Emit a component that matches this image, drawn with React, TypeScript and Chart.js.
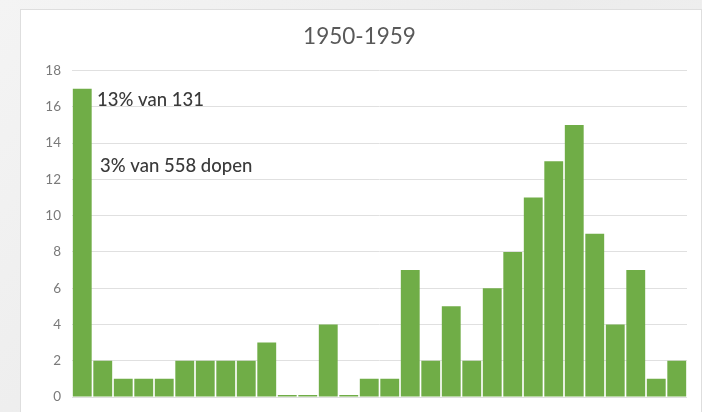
import React, { useEffect, useRef } from "react";
import { Chart, registerables } from "chart.js";

Chart.register(...registerables);

const TITLE = "1950-1959";
const categories = [
  "1", "2", "3", "4", "5", "6", "7", "8", "9", "10",
  "11", "12", "13", "14", "15", "16", "17", "18", "19", "20",
  "21", "22", "23", "24", "25", "26", "27", "28", "29", "30",
];
const counts = [17, 2, 1, 1, 1, 2, 2, 2, 2, 3, 0, 0, 4, 0, 1, 1, 7, 2, 5, 2, 6, 8, 11, 13, 15, 9, 4, 7, 1, 2];
const yMin = 0;
const yMax = 18;
const yStep = 2;
const noteTexts = ["13% van 131", "3% van 558 dopen"];
const noteValues = [16.4, 12.75];
const noteOffsets = [4.5, 7.5];

const notesPlugin = {
  id: "notes",
  afterDatasetsDraw(chart: any) {
    const { ctx, scales } = chart;
    const x = scales.x;
    const y = scales.y;
    ctx.save();
    ctx.font = "500 18.5px Lato";
    ctx.fillStyle = "#3a3a3a";
    ctx.textBaseline = "middle";
    ctx.textAlign = "left";
    noteTexts.forEach((t, i) => {
      const px = x.getPixelForValue(0.5) + noteOffsets[i];
      const py = y.getPixelForValue(noteValues[i]);
      ctx.fillText(t, px, py);
    });
    ctx.restore();
  },
};

export default function App() {
  const ref = useRef<HTMLCanvasElement | null>(null);
  useEffect(() => {
    if (!ref.current) return;
    const chart = new Chart(ref.current, {
      type: "bar",
      data: {
        labels: categories,
        datasets: [
          {
            data: counts,
            backgroundColor: "#70ad47",
            borderWidth: 0,
            barPercentage: 0.92,
            categoryPercentage: 1,
            minBarLength: 2,
          },
        ],
      },
      options: {
        animation: false,
        responsive: false,
        maintainAspectRatio: false,
        layout: { padding: { left: 11, right: 14, top: 0, bottom: 15 } },
        plugins: {
          legend: { display: false },
          tooltip: { enabled: false },
          title: {
            display: true,
            text: TITLE,
            color: "#595959",
            font: { family: "Lato", size: 22.5, weight: "normal" },
            padding: { top: 13, bottom: 20.6 },
          },
        },
        scales: {
          x: { display: false },
          y: {
            min: yMin,
            max: yMax,
            afterFit: (s: any) => {
              s.width = 40;
              s.paddingTop = 0;
              s.paddingBottom = 0;
            },
            ticks: {
              stepSize: yStep,
              padding: 11,
              color: "#7a7a7a",
              font: { family: "Lato", size: 13.5 },
            },
            grid: { color: "#e0e0e0", lineWidth: 1, drawTicks: false },
            border: { display: false },
          },
        },
      },
      plugins: [notesPlugin],
    });
    return () => chart.destroy();
  }, []);

  return (
    <div
      style={{
        position: "fixed",
        left: 0,
        top: 0,
        width: 702,
        height: 412,
        background: "linear-gradient(135deg, #f4f4f4 0%, #ececec 50%, #f3f3f3 100%)",
        overflow: "hidden",
      }}
    >
      <div
        style={{
          position: "absolute",
          left: 20,
          top: 9,
          width: 680,
          height: 402,
          background: "#ffffff",
          borderLeft: "1px solid #dedede",
          borderTop: "1px solid #dedede",
          borderRight: "1px solid #dedede",
        }}
      >
        <canvas ref={ref} width={680} height={402} style={{ position: "absolute", left: 0, top: 0, width: 680, height: 402 }} />
      </div>
    </div>
  );
}
